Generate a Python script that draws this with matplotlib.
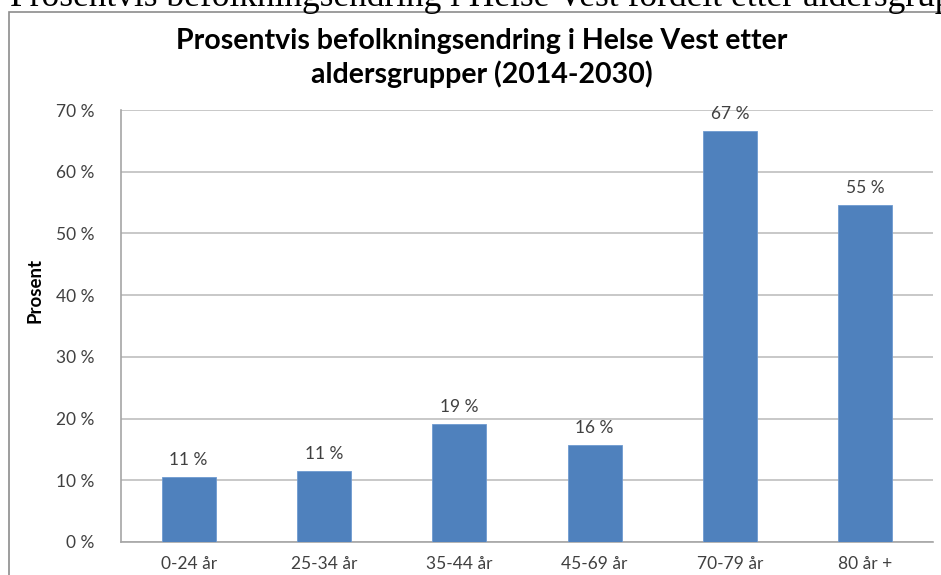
import matplotlib
matplotlib.use("Agg")
import matplotlib.pyplot as plt
from matplotlib.patches import Rectangle

categories = ["0-24 år", "25-34 år", "35-44 år", "45-69 år", "70-79 år", "80 år +"]
values = [10.6, 11.5, 19.1, 15.7, 66.6, 54.6]
labels = ["11 %", "11 %", "19 %", "16 %", "67 %", "55 %"]
yticks = [0, 10, 20, 30, 40, 50, 60, 70]

W, H = 941, 575
fig = plt.figure(figsize=(W / 100, H / 100), dpi=100)
plt.rcParams['font.family'] = ['Lato', 'DejaVu Sans']

# cut-off document caption above the chart frame (cropped in the reference too)
fig.text(10 / W, 1 - 6 / H, "Prosentvis befolkningsendring i Helse Vest fordelt etter aldersgrupper",
         family=['Liberation Serif'], fontsize=25.5, va='baseline', ha='left', color='black')

# chart frame
fig.patches.append(Rectangle((9 / W, -0.1), 1.2, 1 - 12 / H + 0.1, transform=fig.transFigure,
                             fill=False, edgecolor='#8c8c8c', linewidth=1.2))

ax = fig.add_axes([121 / W, 33 / H, 812 / W, 432 / H])
x = range(len(categories))
ax.bar(x, values, width=0.4, color='#4F81BD', edgecolor='#6f9ad0', linewidth=0.6, zorder=3)
for xi, v, lab in zip(x, values, labels):
    ax.text(xi, v + 1.4, lab, ha='center', va='bottom', fontsize=12.5, color='#404040')

ax.set_xlim(-0.5, len(categories) - 0.5)
ax.set_ylim(0, 70)
ax.set_yticks(yticks)
ax.set_yticklabels([f"{t} %" for t in yticks], fontsize=12.5, color='#404040')
ax.set_xticks(list(x))
ax.set_xticklabels(categories, fontsize=12.5, color='#404040')
ax.tick_params(axis='x', length=0, pad=10)
ax.tick_params(axis='y', length=0, pad=19)
ax.grid(axis='y', color='#bfbfbf', linewidth=1.2, zorder=0)
for s in ['top', 'right']:
    ax.spines[s].set_visible(False)
for s in ['left', 'bottom']:
    ax.spines[s].set_color('#a6a6a6')
    ax.spines[s].set_linewidth(1.2)
ax.set_ylabel("Prosent", fontsize=13.5, fontweight='bold')
ax.yaxis.set_label_coords(-0.096, 0.583)

fig.text(482 / W, 1 - 58 / H, "Prosentvis befolkningsendring i Helse Vest etter\naldersgrupper (2014-2030)",
         ha='center', va='center', fontsize=20.5, fontweight='bold', linespacing=1.28)

fig.savefig("out.png", dpi=100)
